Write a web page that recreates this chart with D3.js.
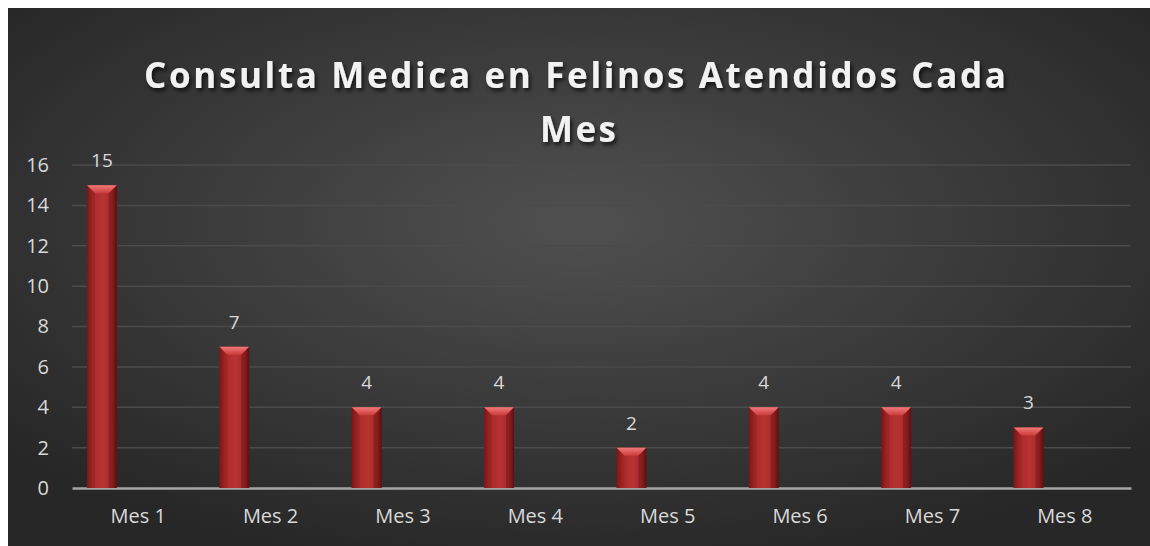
<!DOCTYPE html>
<html>
<head>
<meta charset="utf-8">
<script src="https://cdn.jsdelivr.net/npm/d3@7"></script>
<style>
  body { margin: 0; background: #fff; }
</style>
</head>
<body>
<script>
const months = ['Mes 1', 'Mes 2', 'Mes 3', 'Mes 4', 'Mes 5', 'Mes 6', 'Mes 7', 'Mes 8']
const consultas = [15, 7, 4, 4, 2, 4, 4, 3]
const yTicks = [0, 2, 4, 6, 8, 10, 12, 14, 16]
const titleLines = ['Consulta Medica en Felinos Atendidos Cada', 'Mes']

const W = 1150, H = 546
const margin = { top: 165, right: 19, bottom: 58, left: 72 }
const width = W - margin.left - margin.right
const height = H - margin.top - margin.bottom
const font = '"Open Sans", Lato, sans-serif'

const svg = d3.select('body').append('svg')
    .attr('width', W)
    .attr('height', H)

const defs = svg.append('defs')

const bg = defs.append('radialGradient')
    .attr('id', 'bg')
    .attr('cx', '50%').attr('cy', '40%').attr('r', '65%')
bg.append('stop').attr('offset', '0%').attr('stop-color', '#505050')
bg.append('stop').attr('offset', '100%').attr('stop-color', '#272727')

const barGrad = defs.append('linearGradient')
    .attr('id', 'barGrad')
    .attr('x1', '0%').attr('x2', '100%').attr('y1', '0%').attr('y2', '0%')
barGrad.append('stop').attr('offset', '0%').attr('stop-color', '#731515')
barGrad.append('stop').attr('offset', '20%').attr('stop-color', '#ab2b2b')
barGrad.append('stop').attr('offset', '55%').attr('stop-color', '#b93333')
barGrad.append('stop').attr('offset', '85%').attr('stop-color', '#a32727')
barGrad.append('stop').attr('offset', '100%').attr('stop-color', '#621111')

const topGrad = defs.append('linearGradient')
    .attr('id', 'topGrad')
    .attr('x1', '0%').attr('x2', '0%').attr('y1', '0%').attr('y2', '100%')
topGrad.append('stop').attr('offset', '0%').attr('stop-color', '#f07a7a')
topGrad.append('stop').attr('offset', '100%').attr('stop-color', '#cc3c3c')

const shadow = defs.append('filter').attr('id', 'shadow')
    .attr('x', '-10%').attr('y', '-30%').attr('width', '120%').attr('height', '160%')
shadow.append('feDropShadow')
    .attr('dx', 2).attr('dy', 3).attr('stdDeviation', 2)
    .attr('flood-color', '#000').attr('flood-opacity', 0.7)

svg.append('rect')
    .attr('x', 8).attr('y', 8)
    .attr('width', W - 8).attr('height', H - 8)
    .attr('fill', 'url(#bg)')

// title
const title = svg.append('text')
    .attr('text-anchor', 'middle')
    .style('font-family', font)
    .style('font-weight', 'bold')
    .style('font-size', '35px')
    .style('fill', '#f2f2f2')
    .attr('filter', 'url(#shadow)')
title.append('tspan')
    .attr('x', 575).attr('y', 88)
    .attr('textLength', 862)
    .attr('lengthAdjust', 'spacing')
    .text(titleLines[0])
title.append('tspan')
    .attr('x', 578).attr('y', 142)
    .attr('textLength', 76)
    .attr('lengthAdjust', 'spacing')
    .text(titleLines[1])

const g = svg.append('g')
    .attr('transform', `translate(${margin.left}, ${margin.top})`)

const xScale = d3.scaleBand()
    .domain(months)
    .range([0, width])

const yScale = d3.scaleLinear()
    .domain([0, 16])
    .range([height, 0])

// gridlines
g.selectAll('.grid')
    .data(yTicks.filter(d => d > 0))
    .enter().append('line')
    .attr('class', 'grid')
    .attr('x1', 0).attr('x2', width)
    .attr('y1', d => yScale(d)).attr('y2', d => yScale(d))
    .style('stroke', '#4b4b4b')
    .style('stroke-width', 1.5)

// y axis labels
const yAxis = g.append('g')
    .call(d3.axisLeft(yScale).tickValues(yTicks).tickSize(0).tickPadding(23))
yAxis.select('.domain').remove()
yAxis.selectAll('text')
    .style('font-family', font)
    .style('font-size', '20px')
    .style('fill', '#d9d9d9')

// x axis
const xAxis = g.append('g')
    .attr('transform', `translate(0, ${height})`)
    .call(d3.axisBottom(xScale).tickSize(0).tickPadding(21))
xAxis.select('.domain')
    .style('stroke', '#a6a6a6')
    .style('stroke-width', 2.5)
xAxis.selectAll('text')
    .style('font-family', font)
    .style('font-size', '20px')
    .style('fill', '#d9d9d9')

// bars sit in the left part of each band
const barOffset = xScale.bandwidth() * 0.113
const barWidth = xScale.bandwidth() * 0.226
const bevel = 8

const bars = g.selectAll('.bar')
    .data(consultas)
    .enter().append('g')
    .attr('class', 'bar')
    .attr('transform', (d, i) => `translate(${xScale(months[i]) + barOffset}, 0)`)

bars.append('rect')
    .attr('x', 0)
    .attr('y', d => yScale(d))
    .attr('width', barWidth)
    .attr('height', d => height - yScale(d))
    .style('fill', 'url(#barGrad)')

// bevel on top of each bar
bars.append('polygon')
    .attr('points', d => {
        const y = yScale(d)
        return `0,${y} ${barWidth},${y} ${barWidth - bevel},${y + bevel} ${bevel},${y + bevel}`
    })
    .style('fill', 'url(#topGrad)')
bars.append('polygon')
    .attr('points', d => {
        const y = yScale(d)
        return `0,${y} ${bevel},${y + bevel} ${bevel},${height} 0,${height}`
    })
    .style('fill', '#8a1a1a')
    .style('fill-opacity', 0.35)
bars.append('polygon')
    .attr('points', d => {
        const y = yScale(d)
        return `${barWidth},${y} ${barWidth - bevel},${y + bevel} ${barWidth - bevel},${height} ${barWidth},${height}`
    })
    .style('fill', '#5a0c0c')
    .style('fill-opacity', 0.35)

// data labels
bars.append('text')
    .attr('x', barWidth / 2)
    .attr('y', d => yScale(d) - 18)
    .style('text-anchor', 'middle')
    .style('font-family', font)
    .style('font-size', '19px')
    .style('fill', '#d9d9d9')
    .text(d => d)
</script>
</body>
</html>
